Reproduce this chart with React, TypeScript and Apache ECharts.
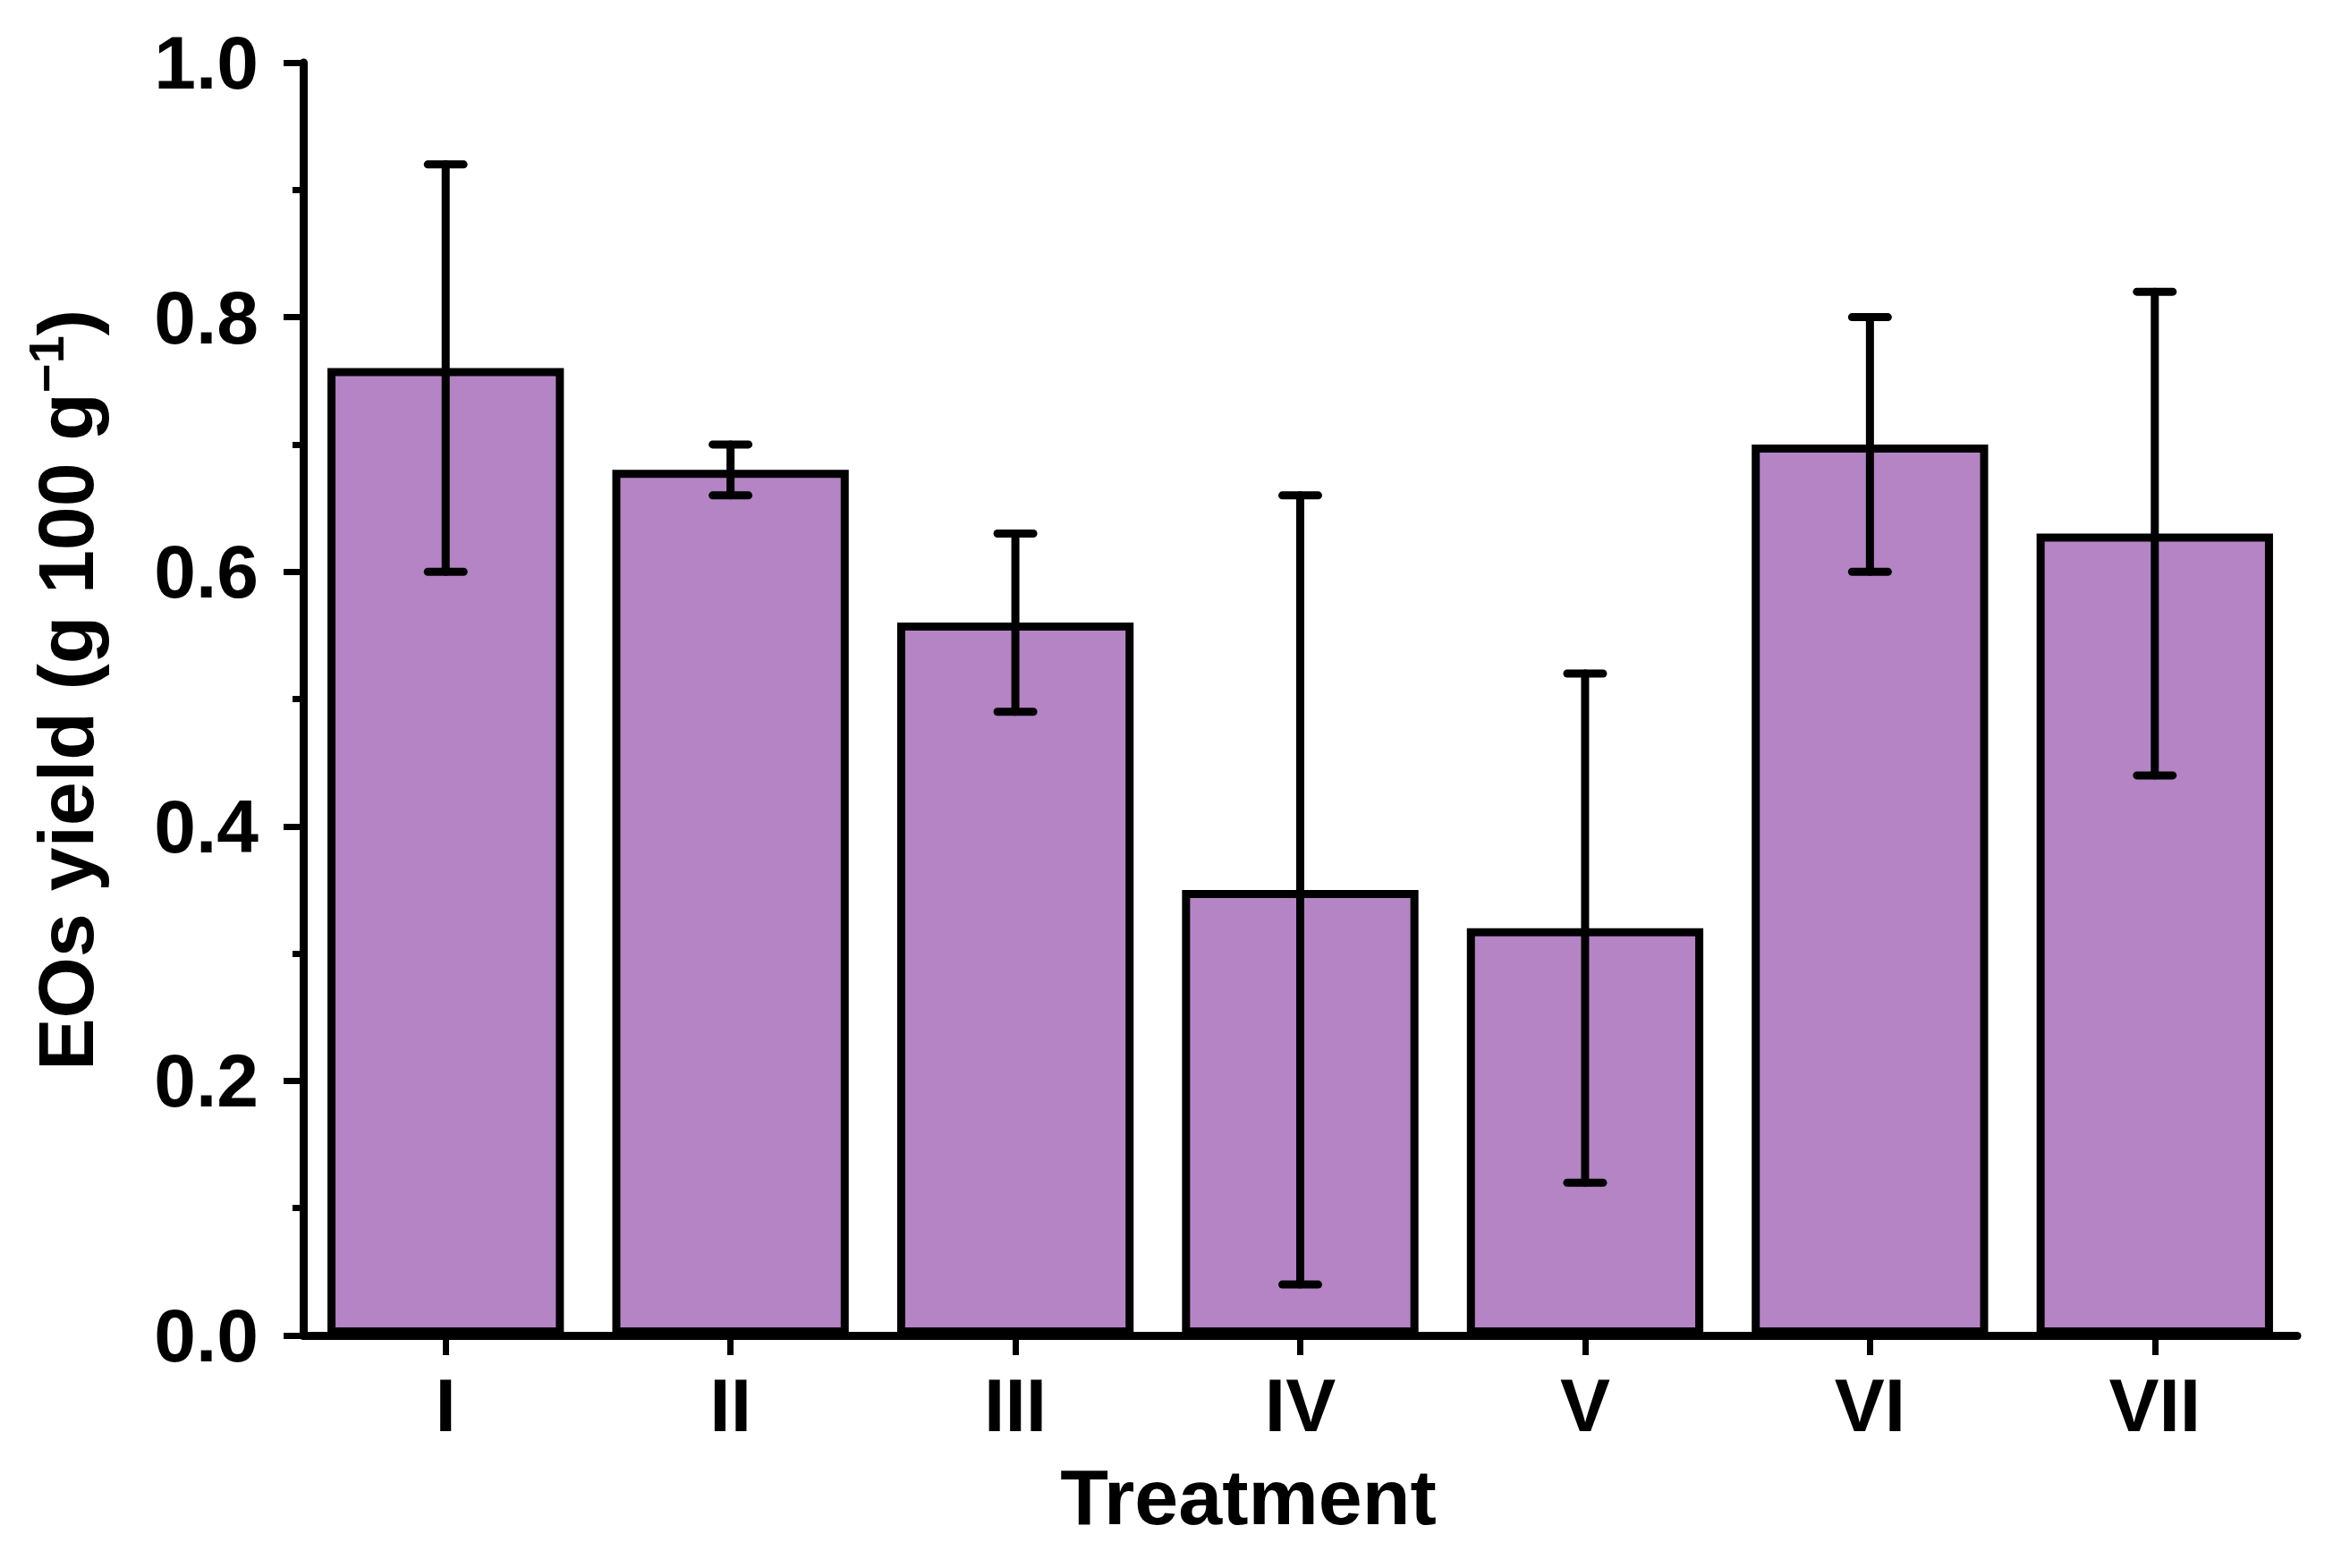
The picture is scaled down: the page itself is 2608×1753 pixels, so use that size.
import React, { useEffect, useRef } from "react";
import * as echarts from "echarts";

const categories = ["I", "II", "III", "IV", "V", "VI", "VII"];
const yieldMeans = [0.76, 0.68, 0.56, 0.35, 0.32, 0.7, 0.63];
const yieldErrors = [0.16, 0.02, 0.07, 0.31, 0.2, 0.1, 0.19];
const yTicks = [0, 0.2, 0.4, 0.6, 0.8, 1.0];

const FONT = "'Liberation Sans', Arial, sans-serif";
const BAR_COLOR = "#B584C5";

export default function App() {
  const ref = useRef<HTMLDivElement>(null);

  useEffect(() => {
    if (!ref.current) return;
    const chart = echarts.init(ref.current, null, { renderer: "svg" });
    const errData = yieldMeans.map((m, i) => [i, m - yieldErrors[i], m + yieldErrors[i]]);

    chart.setOption({
      animation: false,
      backgroundColor: "#ffffff",
      textStyle: { fontFamily: FONT },
      grid: { left: 339, right: 40, top: 70, bottom: 260, containLabel: false },
      xAxis: {
        type: "category",
        data: categories,
        name: "Treatment",
        nameLocation: "middle",
        nameGap: 136,
        nameTextStyle: {
          fontFamily: FONT,
          fontSize: 88,
          fontWeight: "bold",
          color: "#000",
          padding: [0, 116, 0, 0],
        },
        axisLine: { show: true, lineStyle: { color: "#000", width: 9 } },
        axisTick: { show: true, alignWithLabel: true, length: 22, lineStyle: { color: "#000", width: 7 } },
        axisLabel: { fontFamily: FONT, fontSize: 84, fontWeight: "bold", color: "#000", margin: 36 },
        splitLine: { show: false },
      },
      yAxis: {
        type: "value",
        min: yTicks[0],
        max: yTicks[yTicks.length - 1],
        interval: 0.2,
        name: "{m|EOs yield (g 100 g}{sup|−1}{m|)}",
        nameLocation: "middle",
        nameGap: 222,
        nameRotate: 90,
        nameTextStyle: {
          fontFamily: FONT,
          fontSize: 88,
          fontWeight: "bold",
          color: "#000",
          padding: [0, 0, 0, 20],
          rich: {
            m: { fontFamily: FONT, fontSize: 88, fontWeight: "bold", color: "#000", lineHeight: 94, verticalAlign: "bottom" },
            sup: { fontFamily: FONT, fontSize: 56, fontWeight: "bold", color: "#000", lineHeight: 94, verticalAlign: "top" },
          },
        },
        axisLine: { show: true, lineStyle: { color: "#000", width: 9 } },
        axisTick: { show: true, length: 22, lineStyle: { color: "#000", width: 7 } },
        minorTick: { show: true, splitNumber: 2, length: 12, lineStyle: { color: "#000", width: 7 } },
        axisLabel: {
          fontFamily: FONT,
          fontSize: 84,
          fontWeight: "bold",
          color: "#000",
          margin: 50,
          formatter: (v: number) => v.toFixed(1),
        },
        splitLine: { show: false },
        minorSplitLine: { show: false },
      },
      series: [
        {
          type: "bar",
          data: yieldMeans,
          barCategoryGap: "17%",
          itemStyle: { color: BAR_COLOR, borderColor: "#000", borderWidth: 9 },
          z: 2,
        },
        {
          type: "custom",
          data: errData,
          z: 5,
          encode: { x: 0, y: [1, 2] },
          renderItem: (params: any, api: any) => {
            const idx = api.value(0);
            const lo = api.coord([idx, api.value(1)]);
            const hi = api.coord([idx, api.value(2)]);
            const half = 20;
            const style = { stroke: "#000", lineWidth: 9, lineCap: "round" };
            return {
              type: "group",
              children: [
                { type: "line", shape: { x1: hi[0], y1: hi[1], x2: lo[0], y2: lo[1] }, style },
                { type: "line", shape: { x1: hi[0] - half, y1: hi[1], x2: hi[0] + half, y2: hi[1] }, style },
                { type: "line", shape: { x1: lo[0] - half, y1: lo[1], x2: lo[0] + half, y2: lo[1] }, style },
              ],
            };
          },
        },
      ],
    });

    return () => chart.dispose();
  }, []);

  return (
    <div
      ref={ref}
      style={{ position: "absolute", left: 0, top: 0, width: 2608, height: 1753, background: "#fff" }}
    />
  );
}
